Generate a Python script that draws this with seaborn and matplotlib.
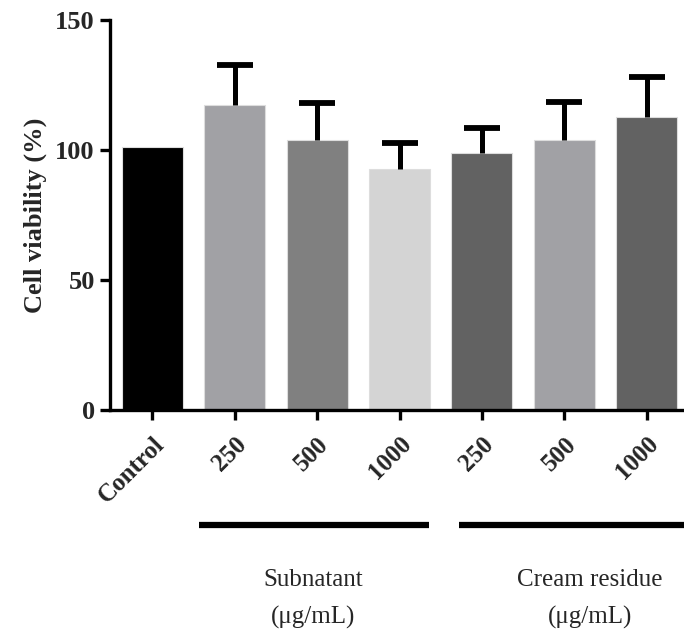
import numpy as np
import seaborn as sns
import matplotlib.pyplot as plt

sns.set_style('white')
plt.rcParams['font.family'] = ['Liberation Serif', 'DejaVu Serif']

groups = ['ctrl', 'sub250', 'sub500', 'sub1000', 'cr250', 'cr500', 'cr1000']
tick_labels = ['Control', '250', '500', '1000', '250', '500', '1000']
viability = [101.2, 117.3, 103.8, 92.7, 98.8, 103.8, 112.7]
upper_err = [0, 15.5, 14.5, 10.0, 9.7, 14.7, 15.3]
bar_colors = ['#000000', '#a1a1a5', '#808080', '#d4d4d4', '#626262', '#a1a1a5', '#626262']

fig = plt.figure(figsize=(6.84, 6.31), dpi=100)
ax = fig.add_axes([0.161, 0.350, 0.839, 0.618])

sns.barplot(x=groups, y=viability, hue=groups, palette=bar_colors, legend=False,
            width=0.74, edgecolor='#dddddd', linewidth=0.8, ax=ax)

# upper error bars only (drop lower cap)
xs = np.arange(len(groups))
err = np.array(upper_err)
mask = err > 0
_, caps, _ = ax.errorbar(xs[mask], np.array(viability)[mask],
                         yerr=[np.zeros(mask.sum()), err[mask]],
                         fmt='none', ecolor='black', elinewidth=3.6,
                         capsize=13, capthick=4.2, zorder=5)
caps[0].set_visible(False)

ax.set_ylim(0, 150)
ax.set_xlim(-0.51, 6.45)
ax.set_yticks([0, 50, 100, 150])
ax.set_yticklabels(['0', '50', '100', '150'], fontsize=19, fontweight='bold')
ax.set_xticks(xs)
ax.set_xticklabels(tick_labels, rotation=45, ha='right', rotation_mode='anchor',
                   fontsize=18, fontweight='bold')
ax.set_ylabel('Cell viability (%)', fontsize=19, fontweight='bold', labelpad=6)

for side in ['top', 'right']:
    ax.spines[side].set_visible(False)
for side in ['left', 'bottom']:
    ax.spines[side].set_linewidth(2.4)
    ax.spines[side].set_color('black')
ax.tick_params(axis='both', direction='out', length=7, width=2.4, color='black',
               left=True, bottom=True, pad=4)
ax.tick_params(axis='x', pad=9)

trans = ax.get_xaxis_transform()
ax.plot([0.57, 3.36], [-0.295, -0.295], color='black', lw=4.5, transform=trans,
        clip_on=False, solid_capstyle='butt')
ax.plot([3.72, 6.45], [-0.295, -0.295], color='black', lw=4.5, transform=trans,
        clip_on=False, solid_capstyle='butt')

ax.text(1.95, -0.436, 'Subnatant', transform=trans, ha='center', va='center', fontsize=18)
ax.text(1.95, -0.531, '(μg/mL)', transform=trans, ha='center', va='center', fontsize=18)
ax.text(5.31, -0.436, 'Cream residue', transform=trans, ha='center', va='center', fontsize=18)
ax.text(5.31, -0.531, '(μg/mL)', transform=trans, ha='center', va='center', fontsize=18)

fig.savefig('out.png', dpi=100)
